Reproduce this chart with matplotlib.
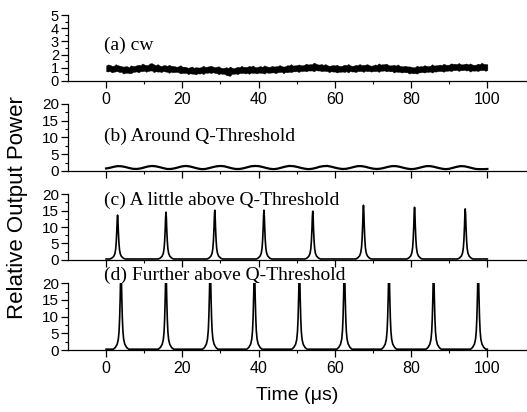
import numpy as np
import matplotlib
matplotlib.use("Agg")
import matplotlib.pyplot as plt
from matplotlib.ticker import FixedLocator, MultipleLocator

# (a) cw: upper / lower edge of the noisy band,
# values at whole microseconds and at the half-microsecond points between
cw_upper = [1.18, 1.22, 1.15, 1.2, 1.13, 1.12, 1.05, 1.14, 1.19, 1.2,
            1.25, 1.22, 1.35, 1.2, 1.18, 1.2, 1.15, 1.16, 1.12, 1.12,
            1.08, 1.06, 1.05, 1.0, 1.03, 1.07, 1.06, 1.12, 1.1, 1.08,
            1.02, 1.0, 0.98, 1.01, 1.03, 1.06, 1.07, 1.08, 1.1, 1.06,
            1.1, 1.07, 1.12, 1.08, 1.1, 1.13, 1.14, 1.12, 1.18, 1.17,
            1.2, 1.2, 1.24, 1.25, 1.27, 1.32, 1.25, 1.22, 1.2, 1.18,
            1.18, 1.15, 1.17, 1.2, 1.19, 1.17, 1.2, 1.21, 1.24, 1.2,
            1.19, 1.22, 1.25, 1.28, 1.22, 1.2, 1.17, 1.16, 1.12, 1.1,
            1.08, 1.05, 1.1, 1.12, 1.15, 1.16, 1.17, 1.2, 1.2, 1.25,
            1.25, 1.3, 1.28, 1.27, 1.3, 1.26, 1.25, 1.24, 1.28, 1.3,
            1.27]
cw_upper_half = [1.26, 1.16, 1.28, 1.17, 1.09, 1.12, 1.19, 1.15, 1.24, 1.33,
                 1.21, 1.34, 1.27, 1.28, 1.13, 1.2, 1.23, 1.14, 1.08, 1.2,
                 1.09, 1.0, 1.1, 1.05, 1.02, 1.16, 1.09, 1.16, 1.05, 1.12,
                 0.99, 1.05, 1.1, 0.97, 1.08, 1.15, 1.07, 1.14, 1.18, 1.05,
                 1.13, 1.19, 1.08, 1.15, 1.12, 1.21, 1.09, 1.2, 1.28, 1.19,
                 1.26, 1.19, 1.32, 1.28, 1.4, 1.26, 1.29, 1.29, 1.15, 1.21,
                 1.24, 1.14, 1.24, 1.29, 1.15, 1.23, 1.29, 1.23, 1.28, 1.16,
                 1.26, 1.34, 1.27, 1.32, 1.18, 1.23, 1.26, 1.12, 1.16, 1.11,
                 1.04, 1.16, 1.13, 1.2, 1.13, 1.27, 1.2, 1.25, 1.31, 1.22,
                 1.34, 1.31, 1.37, 1.26, 1.33, 1.34, 1.23, 1.32, 1.39, 1.29]
cw_lower = [0.74, 0.75, 0.7, 0.74, 0.7, 0.62, 0.6, 0.68, 0.73, 0.75,
            0.78, 0.76, 0.8, 0.74, 0.72, 0.75, 0.7, 0.7, 0.68, 0.66,
            0.62, 0.63, 0.58, 0.55, 0.58, 0.6, 0.64, 0.65, 0.66, 0.6,
            0.58, 0.55, 0.42, 0.55, 0.57, 0.6, 0.62, 0.61, 0.64, 0.62,
            0.64, 0.62, 0.66, 0.63, 0.65, 0.67, 0.7, 0.68, 0.7, 0.73,
            0.75, 0.76, 0.78, 0.8, 0.8, 0.83, 0.8, 0.78, 0.75, 0.74,
            0.72, 0.7, 0.72, 0.74, 0.75, 0.72, 0.75, 0.76, 0.78, 0.76,
            0.75, 0.77, 0.78, 0.8, 0.77, 0.75, 0.72, 0.7, 0.68, 0.66,
            0.62, 0.6, 0.65, 0.68, 0.7, 0.72, 0.73, 0.75, 0.76, 0.78,
            0.8, 0.82, 0.84, 0.83, 0.85, 0.82, 0.8, 0.8, 0.82, 0.84,
            0.83]
cw_lower_half = [0.72, 0.65, 0.73, 0.67, 0.56, 0.63, 0.58, 0.7, 0.65, 0.74,
                 0.7, 0.79, 0.67, 0.71, 0.68, 0.72, 0.62, 0.66, 0.69, 0.57,
                 0.6, 0.52, 0.56, 0.5, 0.56, 0.52, 0.62, 0.6, 0.62, 0.51,
                 0.54, 0.44, 0.39, 0.54, 0.52, 0.6, 0.57, 0.54, 0.61, 0.57,
                 0.62, 0.56, 0.62, 0.65, 0.59, 0.67, 0.59, 0.66, 0.67, 0.73,
                 0.68, 0.75, 0.73, 0.79, 0.73, 0.79, 0.74, 0.76, 0.67, 0.71,
                 0.64, 0.7, 0.68, 0.65, 0.72, 0.68, 0.75, 0.69, 0.74, 0.71,
                 0.74, 0.69, 0.78, 0.73, 0.73, 0.64, 0.69, 0.64, 0.66, 0.56,
                 0.58, 0.56, 0.66, 0.64, 0.69, 0.64, 0.71, 0.75, 0.7, 0.77,
                 0.75, 0.82, 0.76, 0.81, 0.79, 0.71, 0.78, 0.75, 0.82, 0.77]

# (b) around Q-threshold: slow oscillation, one value per microsecond
t_b = np.arange(0, 101)
power_b = [0.75, 0.95, 1.25, 1.45, 1.4, 1.2, 0.9, 0.65, 0.6, 0.75,
           1.05, 1.35, 1.5, 1.4, 1.15, 0.85, 0.6, 0.6, 0.8, 1.1,
           1.4, 1.5, 1.35, 1.05, 0.75, 0.55, 0.6, 0.85, 1.15, 1.4,
           1.5, 1.4, 1.1, 0.8, 0.6, 0.6, 0.8, 1.1, 1.4, 1.5,
           1.45, 1.2, 0.9, 0.65, 0.55, 0.7, 1.0, 1.3, 1.5, 1.45,
           1.25, 0.95, 0.7, 0.55, 0.65, 0.9, 1.25, 1.45, 1.5, 1.3,
           1.0, 0.75, 0.6, 0.65, 0.9, 1.2, 1.45, 1.45, 1.25, 0.95,
           0.7, 0.6, 0.7, 0.95, 1.25, 1.45, 1.45, 1.25, 0.95, 0.7,
           0.55, 0.65, 0.9, 1.2, 1.45, 1.45, 1.25, 0.95, 0.7, 0.55,
           0.65, 0.95, 1.25, 1.45, 1.4, 1.15, 0.85, 0.6, 0.55, 0.55,
           0.6]

# single pulse shape (offset in us, fraction of peak height)
pulse_offset = [-2.0, -1.5, -1.0, -0.7, -0.5, -0.35, -0.2, -0.1, 0.0,
                0.1, 0.2, 0.35, 0.5, 0.7, 1.0, 1.5, 2.0]
pulse_shape = [0.0, 0.02, 0.06, 0.12, 0.22, 0.38, 0.64, 0.88, 1.0,
               0.88, 0.64, 0.38, 0.22, 0.12, 0.06, 0.02, 0.0]

# (c) a little above Q-threshold
peaks_c = [3.0, 15.7, 28.5, 41.4, 54.2, 67.5, 80.9, 94.2]
heights_c = [13.6, 14.5, 15.1, 15.1, 14.8, 16.6, 16.0, 15.5]
base_c = 0.3

# (d) further above Q-threshold
peaks_d = [3.9, 15.7, 27.3, 38.9, 50.7, 62.5, 74.2, 85.9, 97.6]
heights_d = [25.0, 24.0, 26.0, 25.0, 24.5, 25.5, 25.0, 24.0, 25.0]
base_d = 0.3

x_major = [0, 20, 40, 60, 80, 100]
x_minor = [10, 30, 50, 70, 90]

labels = ["(a) cw", "(b) Around Q-Threshold",
          "(c) A little above Q-Threshold", "(d) Further above Q-Threshold"]


def interleave(whole, half):
    vals = []
    for i, v in enumerate(whole):
        vals.append(v)
        if i < len(half):
            vals.append(half[i])
    return np.array(vals)


def pulse_train(peaks, heights, base):
    t = [0.0]
    y = [base]
    for p, h in zip(peaks, heights):
        for off, frac in zip(pulse_offset, pulse_shape):
            tt = p + off
            if 0 <= tt <= 100:
                t.append(tt)
                y.append(base + (h - base) * frac)
    t.append(100.0)
    y.append(base)
    order = np.argsort(t)
    return np.array(t)[order], np.array(y)[order]


def style_axis(ax, ymax, ymajor, show_xlabels, ylabelsize=11):
    ax.set_xlim(-10, 110.4)
    ax.set_ylim(0, ymax)
    for s in ["top", "right"]:
        ax.spines[s].set_visible(False)
    for s in ["left", "bottom"]:
        ax.spines[s].set_linewidth(0.9)
    ax.xaxis.set_major_locator(FixedLocator(x_major))
    ax.xaxis.set_minor_locator(FixedLocator(x_minor))
    ax.yaxis.set_major_locator(MultipleLocator(ymajor))
    ax.yaxis.set_minor_locator(MultipleLocator(ymajor / 2))
    ax.tick_params(which="major", length=5, width=0.9, pad=1.5)
    ax.tick_params(which="minor", length=2.5, width=0.8)
    ax.tick_params(axis="x", pad=3, labelsize=11.5)
    ax.tick_params(axis="y", labelsize=ylabelsize)
    if not show_xlabels:
        ax.tick_params(axis="x", labelbottom=False)


def main():
    plt.rcParams["font.family"] = ["Liberation Sans", "DejaVu Sans"]
    fig = plt.figure(figsize=(5.27, 4.12), dpi=100)

    left, width = 68 / 527, 459 / 527
    ax_a = fig.add_axes([left, 0.8034, width, 0.160])
    ax_b = fig.add_axes([left, 0.585, width, 0.1626])
    ax_c = fig.add_axes([left, 0.369, width, 0.160])
    ax_d = fig.add_axes([left, 0.150, width, 0.1626])

    # (a)
    t_cw = np.arange(0, len(cw_upper) * 2 - 1) * 0.5
    upper = interleave(cw_upper, cw_upper_half)
    lower = interleave(cw_lower, cw_lower_half)
    ax_a.fill_between(t_cw, lower, upper, color="black", lw=0.3)
    style_axis(ax_a, 5, 1, True, ylabelsize=10.5)

    # (b)
    ax_b.plot(t_b, power_b, color="black", lw=1.6)
    style_axis(ax_b, 20, 5, False)

    # (c)
    tc, yc = pulse_train(peaks_c, heights_c, base_c)
    ax_c.plot(tc, yc, color="black", lw=1.2)
    style_axis(ax_c, 20, 5, False)

    # (d)
    td, yd = pulse_train(peaks_d, heights_d, base_d)
    ax_d.plot(td, yd, color="black", lw=1.2)
    style_axis(ax_d, 20, 5, True)

    serif = ["Liberation Serif", "DejaVu Serif"]
    text_pos = [(ax_a, 2.7), (ax_b, 10.2), (ax_c, 18.0), (ax_d, 22.4)]
    for (ax, ypos), lab in zip(text_pos, labels):
        ax.text(-0.5, ypos, lab, family=serif, fontsize=14,
                va="center", ha="left", clip_on=False)

    fig.text(18 / 527, 0.495, "Relative Output Power", rotation=90,
             ha="center", va="center", fontsize=16)
    fig.text(297 / 527, 0.039, "Time (\u03bcs)", ha="center", va="center",
             fontsize=14)

    fig.savefig("out.png", dpi=100)


if __name__ == "__main__":
    main()
